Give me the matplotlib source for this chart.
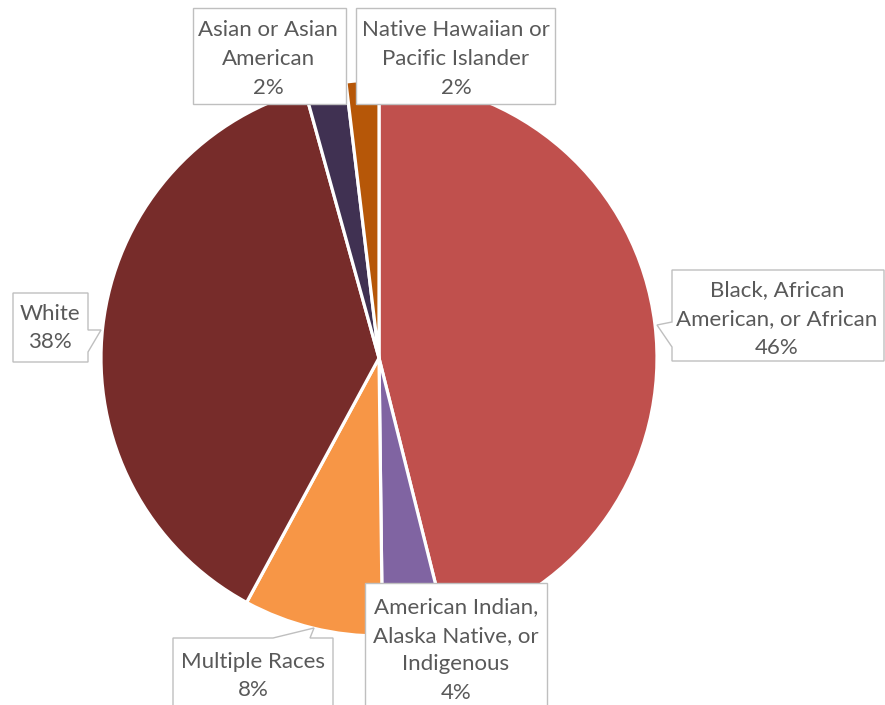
import matplotlib.pyplot as plt
from matplotlib.patches import Polygon

# data (shares; labels show them rounded)
labels = ["Black, African\nAmerican, or African", "American Indian,\nAlaska Native, or\nIndigenous",
          "Multiple Races", "White", "Asian or Asian\nAmerican", "Native Hawaiian or\nPacific Islander"]
shares = [46.1, 3.7, 8.1, 37.8, 2.4, 1.9]
colors = ["#C0504D", "#8064A2", "#F79646", "#772C2A", "#403152", "#B65708"]

W, H = 885, 705
fig = plt.figure(figsize=(W / 100, H / 100), dpi=100)
ax = fig.add_axes([0, 0, 1, 1])

# y axis inverted (pixel style) -> startangle -90 is 12 o'clock, counterclock draws clockwise on screen
ax.pie(shares, colors=colors, startangle=-90, counterclock=True,
       center=(379, 358), radius=278,
       wedgeprops=dict(edgecolor="white", linewidth=2.3))
ax.set_xlim(0, W)
ax.set_ylim(H, 0)
ax.set_aspect("equal")
ax.axis("off")

# callout boxes: (x0, y0, x1, y1, pointer, text center x, text center y)
# pointer = (side, a, b, tip) where a, b are positions along that side
callouts = [
    (672, 270, 884, 361, ("left", 322, 347, (657, 325)), 777, 319),
    (365, 583, 547, 710, None, 456, 650),
    (173, 638, 333, 710, ("top", 273, 310, (314, 628)), 253, 676),
    (13, 293, 88, 362, ("right", 330, 352, (101, 330)), 50, 328),
    (193, 8, 346, 104, None, 268, 59),
    (356, 8, 555, 104, None, 456, 59),
]

total = sum(shares)
for (x0, y0, x1, y1, ptr, tx, ty), lab, v in zip(callouts, labels, shares):
    if ptr is None:
        pts = [(x0, y0), (x1, y0), (x1, y1), (x0, y1)]
    else:
        side, a, b, tip = ptr
        if side == "left":
            pts = [(x0, y0), (x1, y0), (x1, y1), (x0, y1), (x0, b), tip, (x0, a)]
        elif side == "right":
            pts = [(x0, y0), (x1, y0), (x1, a), tip, (x1, b), (x1, y1), (x0, y1)]
        else:
            pts = [(x0, y0), (a, y0), tip, (b, y0), (x1, y0), (x1, y1), (x0, y1)]
    ax.add_patch(Polygon(pts, closed=True, facecolor="white", edgecolor="#BFBFBF",
                         linewidth=1.0, zorder=5))
    ax.text(tx, ty, f"{lab}\n{100 * v / total:.0f}%", ha="center", va="center", fontsize=16,
            family="Lato", color="#595959", linespacing=1.55, zorder=6)

fig.savefig("out.png", dpi=100)
